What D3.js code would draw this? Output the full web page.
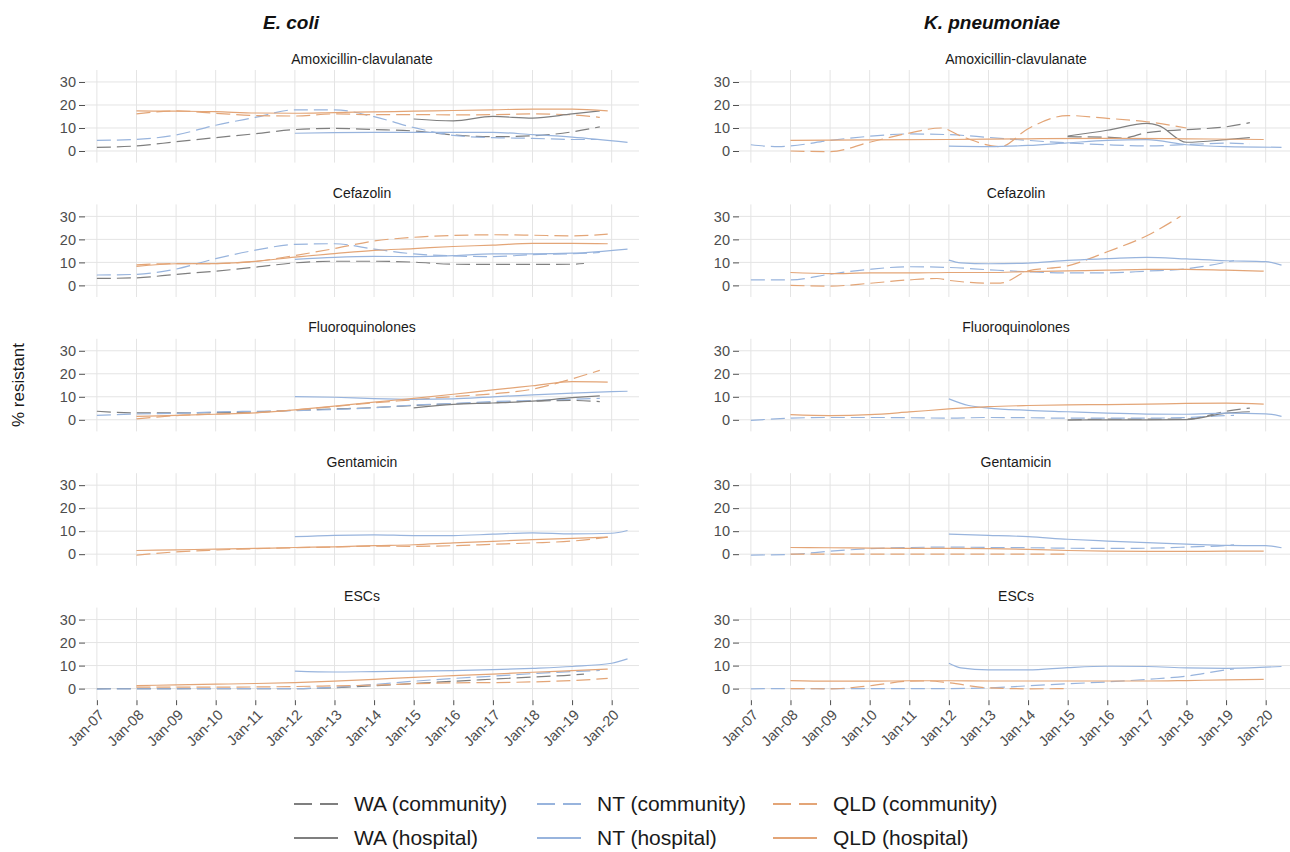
<!DOCTYPE html>
<html>
<head>
<meta charset="utf-8">
<script src="https://cdn.jsdelivr.net/npm/d3@7"></script>
<style>
  body { margin: 0; background: #fff; }
  text { font-family: "Liberation Sans", Arial, sans-serif; }
</style>
</head>
<body>
<svg id="chart" width="1290" height="852"></svg>
<script>
// categories / labels
const organisms = ["E. coli", "K. pneumoniae"];
const antibiotics = ["Amoxicillin-clavulanate", "Cefazolin", "Fluoroquinolones", "Gentamicin", "ESCs"];
const seriesKeys = ["WAc", "NTc", "QLDc", "WAh", "NTh", "QLDh"];
const seriesLabels = ["WA (community)", "NT (community)", "QLD (community)", "WA (hospital)", "NT (hospital)", "QLD (hospital)"];
const yTicks = [0, 10, 20, 30];
const xTickYears = [2007, 2008, 2009, 2010, 2011, 2012, 2013, 2014, 2015, 2016, 2017, 2018, 2019, 2020];
const xTickLabels = ["Jan-07", "Jan-08", "Jan-09", "Jan-10", "Jan-11", "Jan-12", "Jan-13", "Jan-14", "Jan-15", "Jan-16", "Jan-17", "Jan-18", "Jan-19", "Jan-20"];

// E. coli - Amoxicillin-clavulanate  ([year, % resistant])
const ecAmoxWAc = [[2007,1.6],[2008,2.2],[2009,4],[2010,5.8],[2011,7.5],[2012,9.3],[2013,9.8],[2014,9.3],[2015,8.7],[2016,7],[2017,6.2],[2018,6.6],[2019,8.3],[2019.7,10.5]];
const ecAmoxWAh = [[2015,13.9],[2016,13.1],[2017,15],[2018,14.3],[2019,16.1],[2019.7,17.4]];
const ecAmoxNTc = [[2007,4.6],[2008,5],[2009,7],[2010,11.2],[2011,14.6],[2012,17.9],[2013,17.9],[2014,14.9],[2015,10.2],[2016,6.8],[2017,5.8],[2018,5.5],[2019,5],[2019.7,5]];
const ecAmoxNTh = [[2012,7.7],[2013,8],[2014,8.1],[2015,8.1],[2016,8.1],[2017,8.1],[2018,7.1],[2019,6],[2020.4,3.7]];
const ecAmoxQLDc = [[2008,16.1],[2009,17.4],[2010,16.4],[2011,15.4],[2012,15.2],[2013,16.1],[2014,15.8],[2015,15.8],[2016,15.7],[2017,15.8],[2018,16.1],[2019,15.7],[2019.7,14.6]];
const ecAmoxQLDh = [[2008,17.4],[2009,17.3],[2010,17.1],[2011,16.5],[2012,16.4],[2013,16.7],[2014,17],[2015,17.3],[2016,17.6],[2017,17.9],[2018,18.2],[2019,18.2],[2019.9,17.4]];

// K. pneumoniae - Amoxicillin-clavulanate
const kpAmoxWAc = [[2015,6.2],[2016,6],[2016.4,5.6],[2017,8],[2018,9.3],[2019,10.5],[2019.6,12.3]];
const kpAmoxWAh = [[2015,6.5],[2016,9],[2017,12],[2017.3,11],[2018,3.8],[2019,4.9],[2019.6,5.8]];
const kpAmoxNTc = [[2007,2.7],[2007.7,1.9],[2008,2.2],[2009,4.6],[2010,6.4],[2011,7.4],[2012,7.1],[2013,5.9],[2014,4.6],[2015,3.5],[2016,2.7],[2017,2.2],[2018,2.8],[2019,3.4],[2019.6,3.1]];
const kpAmoxNTh = [[2012,2.1],[2013,1.9],[2014,2.4],[2015,3.5],[2016,4.6],[2017,4.9],[2018,2.7],[2019,1.9],[2020.4,1.6]];
const kpAmoxQLDc = [[2008,0],[2009,-0.3],[2010,3.8],[2011,7.8],[2011.8,10],[2012.3,6.5],[2013.3,1.9],[2014,9.7],[2015,15.4],[2016,14.2],[2017,12.7],[2018,10]];
const kpAmoxQLDh = [[2008,4.6],[2010,4.8],[2012,5],[2014,5.3],[2016,5.5],[2018,5.3],[2019.95,5]];

// E. coli - Cefazolin
const ecCefWAc = [[2007,3],[2008,3.3],[2009,4.8],[2010,6.2],[2011,7.9],[2012,9.8],[2013,10.5],[2014,10.5],[2015,10.1],[2016,9.2],[2017,9.1],[2018,9.1],[2019,9.2],[2019.3,9.5]];
const ecCefNTc = [[2007,4.5],[2008,4.8],[2009,7.1],[2010,11.6],[2011,15.3],[2012,17.8],[2013,18.1],[2014,15.8],[2015,13.7],[2016,12.8],[2017,12.5],[2018,13.4],[2019,13.8],[2019.7,14.3]];
const ecCefNTh = [[2012,11.3],[2013,12.2],[2014,12.6],[2015,12.5],[2016,12.9],[2017,13.7],[2018,13.7],[2019,14],[2020.4,15.8]];
const ecCefQLDc = [[2008,8.9],[2009,9.5],[2010,9.5],[2011,10.4],[2012,13],[2013,16],[2014,19.3],[2015,20.9],[2016,21.7],[2017,22],[2018,21.8],[2019,21.5],[2019.9,22.3]];
const ecCefQLDh = [[2008,8.3],[2009,9.4],[2010,9.5],[2011,10.4],[2012,12.3],[2013,13.8],[2014,15.2],[2015,16],[2016,16.9],[2017,17.5],[2018,18.3],[2019,18.3],[2019.9,18.1]];

// K. pneumoniae - Cefazolin
const kpCefNTc = [[2007,2.4],[2008,2.4],[2009,4.9],[2010,7],[2011,8.1],[2012,7.8],[2013,6.8],[2014,5.9],[2015,5.4],[2016,5.4],[2017,6.2],[2018,7.2],[2019.2,10.8]];
const kpCefNTh = [[2012,11],[2012.3,9.8],[2013,9.4],[2014,9.7],[2015,10.9],[2016,11.6],[2017,12.2],[2018,11.5],[2019,10.7],[2020,10.3],[2020.4,8.8]];
const kpCefQLDc = [[2008,0],[2009,-0.3],[2010,0.9],[2011,2.4],[2011.7,3],[2012,2.2],[2013,1],[2013.3,1],[2014,6.3],[2015,8.5],[2016,14.6],[2017,21.6],[2017.85,30]];
const kpCefQLDh = [[2008,5.6],[2009,5.1],[2010,5.4],[2011,5.4],[2012,5.6],[2013,5.6],[2014,6],[2015,6.3],[2016,6.6],[2017,7],[2018,7],[2019,6.6],[2019.95,6.2]];

// E. coli - Fluoroquinolones
const ecFqWAc = [[2007,3.7],[2008,3],[2009,3],[2010,3.1],[2011,3.4],[2012,4.1],[2013,4.7],[2014,5.3],[2015,6.2],[2016,7],[2017,7.4],[2018,8.1],[2019,8.4],[2019.7,7.9]];
const ecFqWAh = [[2015,5.2],[2016,6.7],[2017,7.3],[2018,8.1],[2019,9.6],[2019.7,10.4]];
const ecFqNTc = [[2007,1.9],[2008,2.5],[2009,2.8],[2010,3.4],[2011,3.7],[2012,4],[2013,4.5],[2014,5.2],[2015,6.4],[2016,7.1],[2017,7.9],[2018,8.4],[2019,8.9],[2019.7,9.3]];
const ecFqNTh = [[2012,10.1],[2013,9.8],[2014,9.2],[2015,8.9],[2016,9.1],[2017,10],[2018,10.8],[2019,11.6],[2020,12.2],[2020.4,12.4]];
const ecFqQLDc = [[2008,0.4],[2009,1.8],[2010,2.5],[2011,3.1],[2012,4.3],[2013,5.8],[2014,7.4],[2015,8.7],[2016,10.1],[2017,11.3],[2018,13.3],[2019,17.8],[2019.7,21.5]];
const ecFqQLDh = [[2008,1.5],[2009,1.9],[2010,2.4],[2011,3],[2012,4.3],[2013,5.9],[2014,7.7],[2015,9.3],[2016,11.1],[2017,13],[2018,14.8],[2019,16.6],[2019.9,16.4]];

// K. pneumoniae - Fluoroquinolones
const kpFqWAc = [[2015,-0.1],[2016,0.3],[2017,0.3],[2018,0.3],[2019,3.7],[2019.6,5.1]];
const kpFqWAh = [[2015,-0.1],[2016,0],[2017,0],[2018,0.1],[2019,2.9],[2019.6,3.5]];
const kpFqNTc = [[2007,-0.3],[2008,0.7],[2009,1],[2010,1],[2011,0.9],[2012,0.7],[2013,1],[2014,0.9],[2015,0.7],[2016,0.7],[2017,0.7],[2018,1],[2019,1.8],[2019.2,1.9]];
const kpFqNTh = [[2012,9.1],[2012.5,6.2],[2013,5.1],[2014,4.1],[2015,3.5],[2016,2.9],[2017,2.5],[2018,2.4],[2019,2.9],[2020,2.6],[2020.4,1.5]];
const kpFqQLDh = [[2008,2.2],[2009,1.8],[2010,2.2],[2011,3.4],[2012,4.7],[2013,5.7],[2014,6.2],[2015,6.5],[2016,6.6],[2017,6.8],[2018,7.1],[2019,7.2],[2019.95,6.8]];

// E. coli - Gentamicin
const ecGenNTh = [[2012,7.6],[2013,8.2],[2014,8.4],[2015,8.1],[2016,8.1],[2017,8.7],[2018,9.3],[2019,8.8],[2020,9.1],[2020.4,10.3]];
const ecGenQLDc = [[2008,-0.4],[2009,1],[2010,1.8],[2011,2.4],[2012,2.8],[2013,3.1],[2014,3.5],[2015,3.4],[2016,3.7],[2017,4.3],[2018,4.9],[2019,5.7],[2019.9,7.4]];
const ecGenQLDh = [[2008,1.6],[2009,1.9],[2010,2.2],[2011,2.5],[2012,2.9],[2013,3.2],[2014,3.7],[2015,4.1],[2016,4.9],[2017,5.6],[2018,6.3],[2019,6.9],[2019.9,7.4]];

// K. pneumoniae - Gentamicin
const kpGenNTc = [[2007,-0.4],[2008,-0.1],[2009,1.3],[2010,2.4],[2011,2.9],[2012,3.1],[2013,2.9],[2014,2.8],[2015,2.6],[2016,2.5],[2017,2.6],[2018,3.1],[2019,3.8],[2019.2,4.1]];
const kpGenNTh = [[2012,8.7],[2013,8.2],[2014,7.6],[2015,6.5],[2016,5.7],[2017,5],[2018,4.4],[2019,3.8],[2020,3.7],[2020.4,2.8]];
const kpGenQLDc = [[2008,0],[2009,0],[2010,0],[2011,0],[2012,0],[2013,0],[2014,0],[2015,0]];
const kpGenQLDh = [[2008,2.9],[2009,2.8],[2010,2.6],[2011,2.5],[2012,2.5],[2013,2.4],[2014,2.1],[2015,1.6],[2016,1.3],[2017,1.2],[2018,1.2],[2019,1.3],[2019.95,1.3]];

// E. coli - ESCs
const ecEscWAc = [[2007,-0.1],[2008,0],[2009,0],[2010,0],[2011,0],[2012,0],[2013,0.4],[2014,1.2],[2015,2.2],[2016,3.2],[2017,4.1],[2018,5],[2019,5.9],[2019.3,6.3]];
const ecEscNTc = [[2007,-0.2],[2008,-0.1],[2009,-0.1],[2010,0],[2011,0],[2012,0],[2013,0.6],[2014,1.8],[2015,3.2],[2016,4.4],[2017,5.4],[2018,6.5],[2019,7.4],[2019.7,7.9]];
const ecEscNTh = [[2012,7.6],[2013,7.2],[2014,7.4],[2015,7.6],[2016,7.8],[2017,8.2],[2018,8.8],[2019,9.6],[2020,11],[2020.4,12.9]];
const ecEscQLDc = [[2008,0.6],[2009,0.6],[2010,0.6],[2011,0.7],[2012,0.9],[2013,1.2],[2014,1.5],[2015,2.1],[2016,2.5],[2017,2.6],[2018,2.9],[2019,3.5],[2019.9,4.4]];
const ecEscQLDh = [[2008,1.3],[2009,1.6],[2010,1.9],[2011,2.2],[2012,2.6],[2013,3.2],[2014,4],[2015,4.9],[2016,5.6],[2017,6.3],[2018,7.1],[2019,7.8],[2019.9,8.5]];

// K. pneumoniae - ESCs
const kpEscNTc = [[2007,-0.1],[2008,0],[2009,0],[2010,0],[2011,0],[2012,0],[2013,0.3],[2014,1.2],[2015,2.1],[2016,2.9],[2017,4],[2018,5.4],[2019,8.1],[2019.2,8.5]];
const kpEscNTh = [[2012,11],[2012.3,9],[2013,8.1],[2014,8.1],[2015,9.1],[2016,9.7],[2017,9.6],[2018,9],[2019,8.8],[2020,9.3],[2020.4,9.6]];
const kpEscQLDc = [[2008,0],[2009,-0.1],[2010,1.2],[2011,3.2],[2011.5,3.3],[2012,2.5],[2013,0.3],[2014,-0.1],[2015,0]];
const kpEscQLDh = [[2008,3.5],[2009,3.2],[2010,3.2],[2011,3.4],[2012,3.4],[2013,3.3],[2014,3.3],[2015,3.3],[2016,3.3],[2017,3.3],[2018,3.5],[2019,3.8],[2019.95,4]];

// panel table: [organism][antibiotic] -> series
const panelSeries = [
  [
    { WAc: ecAmoxWAc, WAh: ecAmoxWAh, NTc: ecAmoxNTc, NTh: ecAmoxNTh, QLDc: ecAmoxQLDc, QLDh: ecAmoxQLDh },
    { WAc: ecCefWAc, NTc: ecCefNTc, NTh: ecCefNTh, QLDc: ecCefQLDc, QLDh: ecCefQLDh },
    { WAc: ecFqWAc, WAh: ecFqWAh, NTc: ecFqNTc, NTh: ecFqNTh, QLDc: ecFqQLDc, QLDh: ecFqQLDh },
    { NTh: ecGenNTh, QLDc: ecGenQLDc, QLDh: ecGenQLDh },
    { WAc: ecEscWAc, NTc: ecEscNTc, NTh: ecEscNTh, QLDc: ecEscQLDc, QLDh: ecEscQLDh }
  ],
  [
    { WAc: kpAmoxWAc, WAh: kpAmoxWAh, NTc: kpAmoxNTc, NTh: kpAmoxNTh, QLDc: kpAmoxQLDc, QLDh: kpAmoxQLDh },
    { NTc: kpCefNTc, NTh: kpCefNTh, QLDc: kpCefQLDc, QLDh: kpCefQLDh },
    { WAc: kpFqWAc, WAh: kpFqWAh, NTc: kpFqNTc, NTh: kpFqNTh, QLDh: kpFqQLDh },
    { NTc: kpGenNTc, NTh: kpGenNTh, QLDc: kpGenQLDc, QLDh: kpGenQLDh },
    { NTc: kpEscNTc, NTh: kpEscNTh, QLDc: kpEscQLDc, QLDh: kpEscQLDh }
  ]
];

const colors = { WA: "#7f7f7f", NT: "#98b4dd", QLD: "#e3a577" };
const colorOf = k => colors[k.replace(/[ch]$/, "")];
const dashOf = k => k.endsWith("c") ? "14,6" : null;

const svg = d3.select("#chart");

// layout
const colX = [[85, 639], [739, 1293]];
const titleX = [291, 992];
const panelTop0 = 70, panelH = 92.6, rowStep = 134.4;

const line = (x, y) => d3.line()
  .x(d => x(d[0]))
  .y(d => y(d[1]))
  .curve(d3.curveMonotoneX);

organisms.forEach((org, c) => {
  const x = d3.scaleLinear().domain([2006.70, 2020.69]).range(colX[c]);

  svg.append("text")
    .attr("x", titleX[c])
    .attr("y", 29)
    .attr("text-anchor", "middle")
    .style("font-size", "19px")
    .style("font-weight", "bold")
    .style("font-style", "italic")
    .attr("fill", "#111")
    .text(org);

  antibiotics.forEach((ab, r) => {
    const top = panelTop0 + r * rowStep;
    const y = d3.scaleLinear().domain([-5.05, 35.2]).range([top + panelH, top]);
    const g = svg.append("g");

    // gridlines
    g.selectAll(".gx").data(xTickYears).join("line")
      .attr("x1", d => x(d)).attr("x2", d => x(d))
      .attr("y1", top).attr("y2", top + panelH)
      .attr("stroke", "#e4e4e4").attr("stroke-width", 1);
    g.selectAll(".gy").data(yTicks).join("line")
      .attr("x1", colX[c][0]).attr("x2", colX[c][1])
      .attr("y1", d => y(d)).attr("y2", d => y(d))
      .attr("stroke", "#e4e4e4").attr("stroke-width", 1);

    // facet title
    g.append("text")
      .attr("x", (colX[c][0] + colX[c][1]) / 2)
      .attr("y", top - 6.5)
      .attr("text-anchor", "middle")
      .style("font-size", "14px")
      .attr("fill", "#1a1a1a")
      .text(ab);

    // y axis
    const ya = g.append("g")
      .attr("transform", `translate(${colX[c][0]},0)`)
      .call(d3.axisLeft(y).tickValues(yTicks).tickSize(6).tickPadding(3));
    ya.select(".domain").remove();
    ya.selectAll("line").attr("stroke", "#4d4d4d");
    ya.selectAll("text").attr("fill", "#4d4d4d").style("font-size", "14.5px");

    // x axis on bottom row only
    if (r === antibiotics.length - 1) {
      const xa = g.append("g")
        .attr("transform", `translate(0,${top + panelH})`)
        .call(d3.axisBottom(x).tickValues(xTickYears).tickFormat((d, i) => xTickLabels[i]).tickSize(5));
      xa.select(".domain").remove();
      xa.selectAll("line").attr("stroke", "#4d4d4d");
      xa.selectAll("text")
        .attr("fill", "#4d4d4d")
        .style("font-size", "14.5px")
        .attr("text-anchor", "end")
        .attr("dy", null)
        .attr("transform", "translate(2,10) rotate(-45)");
    }

    // series
    const s = panelSeries[c][r];
    seriesKeys.forEach(k => {
      if (!s[k]) return;
      g.append("path")
        .datum(s[k])
        .attr("d", line(x, y))
        .attr("fill", "none")
        .attr("stroke", colorOf(k))
        .attr("stroke-width", 1.2)
        .attr("stroke-dasharray", dashOf(k));
    });
  });
});

// y label
svg.append("text")
  .attr("transform", "translate(24,385) rotate(-90)")
  .attr("text-anchor", "middle")
  .style("font-size", "17px")
  .attr("fill", "#1a1a1a")
  .text("% resistant");

// legend
const legKeyX = [294, 537, 773];
const legRowY = [804, 838];
const leg = svg.append("g");
seriesKeys.forEach((k, i) => {
  const col = i % 3, row = Math.floor(i / 3);
  leg.append("line")
    .attr("x1", legKeyX[col]).attr("x2", legKeyX[col] + 44)
    .attr("y1", legRowY[row]).attr("y2", legRowY[row])
    .attr("stroke", colorOf(k))
    .attr("stroke-width", 2)
    .attr("stroke-dasharray", k.endsWith("c") ? "18,8" : null);
  leg.append("text")
    .attr("x", legKeyX[col] + 60)
    .attr("y", legRowY[row])
    .attr("dy", "0.35em")
    .style("font-size", "21px")
    .attr("fill", "#1a1a1a")
    .text(seriesLabels[i]);
});
</script>
</body>
</html>
